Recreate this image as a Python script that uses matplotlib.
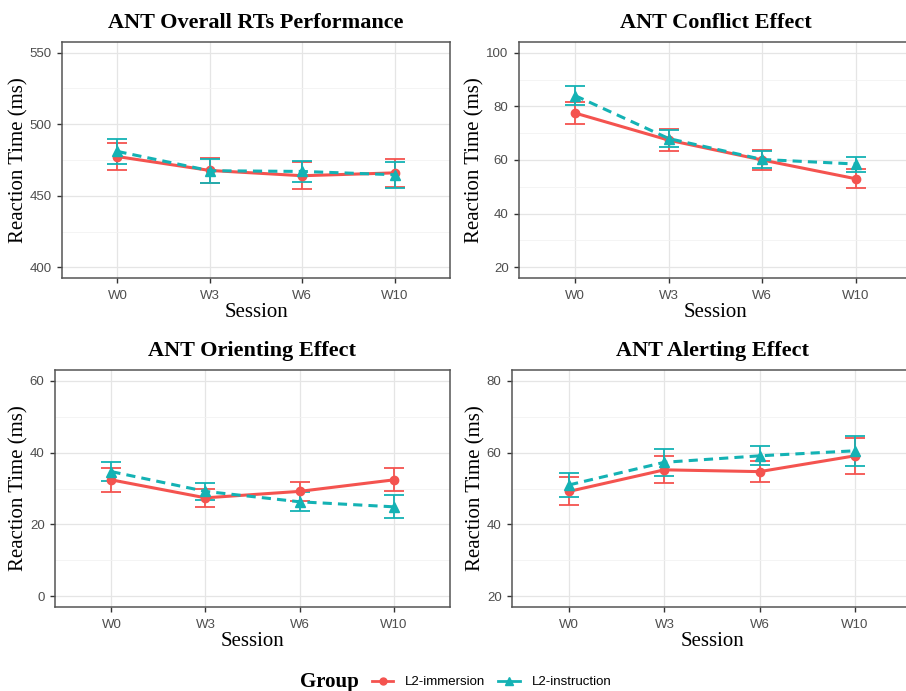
import numpy as np
import matplotlib
matplotlib.use("Agg")
import matplotlib.pyplot as plt
from matplotlib.lines import Line2D

plt.rcParams['font.family'] = 'Liberation Sans'

sessions = ['W0', 'W3', 'W6', 'W10']
groups = ['L2-immersion', 'L2-instruction']

titles = ['ANT Overall RTs Performance', 'ANT Conflict Effect',
          'ANT Orienting Effect', 'ANT Alerting Effect']

# means and error half-widths, (immersion, instruction)
overall_imm = [477.4, 467.7, 464.0, 466.0]
overall_imm_err = [9.5, 9.0, 9.5, 10.0]
overall_ins = [481.0, 467.5, 467.0, 464.7]
overall_ins_err = [9.0, 8.5, 7.5, 9.0]

conflict_imm = [77.5, 67.4, 60.0, 53.0]
conflict_imm_err = [4.0, 4.0, 3.7, 3.6]
conflict_ins = [84.0, 68.0, 60.2, 58.5]
conflict_ins_err = [3.5, 3.2, 3.0, 2.8]

orient_imm = [32.4, 27.4, 29.2, 32.4]
orient_imm_err = [3.3, 2.5, 2.6, 3.2]
orient_ins = [34.7, 29.2, 26.3, 24.9]
orient_ins_err = [2.6, 2.3, 2.6, 3.2]

alert_imm = [49.2, 55.2, 54.7, 59.1]
alert_imm_err = [3.9, 3.8, 3.0, 5.0]
alert_ins = [51.0, 57.3, 59.1, 60.5]
alert_ins_err = [3.4, 3.7, 2.6, 4.2]

ylims = [(400, 550), (20, 100), (0, 60), (20, 80)]
ysteps = [50, 20, 20, 20]

red = '#F4534F'
teal = '#14B2B4'

W, H = 906, 691
fig = plt.figure(figsize=(W / 100, H / 100), dpi=100)

# axes boxes in pixels: left, top, right, bottom
boxes = [(62, 42, 450, 278), (519, 42, 912, 278),
         (55, 370, 450, 607), (512, 370, 912, 607)]

data = [(overall_imm, overall_imm_err, overall_ins, overall_ins_err),
        (conflict_imm, conflict_imm_err, conflict_ins, conflict_ins_err),
        (orient_imm, orient_imm_err, orient_ins, orient_ins_err),
        (alert_imm, alert_imm_err, alert_ins, alert_ins_err)]

x = np.arange(len(sessions))

for i in range(4):
    l, t, r, b = boxes[i]
    ax = fig.add_axes([l / W, (H - b) / H, (r - l) / W, (b - t) / H])
    imm, imm_err, ins, ins_err = data[i]

    ax.errorbar(x, imm, yerr=imm_err, color=red, lw=2.2, marker='o', ms=6,
                capsize=7, capthick=1.3, elinewidth=1.3, zorder=3)
    ax.errorbar(x, ins, yerr=ins_err, color=teal, lw=2.2, ls=(0, (3, 2)),
                marker='^', ms=6.5, capsize=7, capthick=1.3, elinewidth=1.3, zorder=3)

    lo, hi = ylims[i]
    pad = (hi - lo) * 0.05
    ax.set_ylim(lo - pad, hi + pad)
    ax.set_xlim(-0.6, 3.6)
    ax.set_yticks(np.arange(lo, hi + 1, ysteps[i]))
    ax.set_yticks(np.arange(lo + ysteps[i] / 2, hi, ysteps[i]), minor=True)
    ax.set_xticks(x)
    ax.set_xticklabels(sessions)
    ax.grid(which='major', color='#E5E5E5', lw=0.9)
    ax.grid(which='minor', axis='y', color='#F2F2F2', lw=0.6)
    ax.set_axisbelow(True)
    ax.tick_params(which='major', length=3.5, width=1, color='#333333',
                   labelsize=9.5, labelcolor='#4D4D4D', pad=4)
    ax.tick_params(axis='x', pad=5)
    ax.tick_params(which='minor', length=0)
    for s in ax.spines.values():
        s.set_color('#555555')
        s.set_linewidth(1.1)

    ax.set_title(titles[i], fontfamily='Liberation Serif', fontweight='bold',
                 fontsize=16, pad=10)
    ax.set_xlabel('Session', fontfamily='Liberation Serif', fontsize=15, labelpad=1)
    ax.set_ylabel('Reaction Time (ms)', fontfamily='Liberation Serif', fontsize=15,
                  labelpad=1)

# legend at the bottom: bold "Group" title followed by the two entries
fig.text(300 / W, 1 - 682 / H, 'Group', fontfamily='Liberation Serif',
         fontweight='bold', fontsize=15, ha='left', va='center')
handles = [Line2D([], [], color=red, lw=2, marker='o', ms=5),
           Line2D([], [], color=teal, lw=2, marker='^', ms=6)]
fig.legend(handles, groups, loc='center left', bbox_to_anchor=(372 / W, 1 - 682 / H),
           ncol=2, frameon=False, fontsize=9.5, handlelength=1.6,
           columnspacing=1.0, handletextpad=0.9, borderpad=0, borderaxespad=0)

fig.savefig('out.png', dpi=100)
